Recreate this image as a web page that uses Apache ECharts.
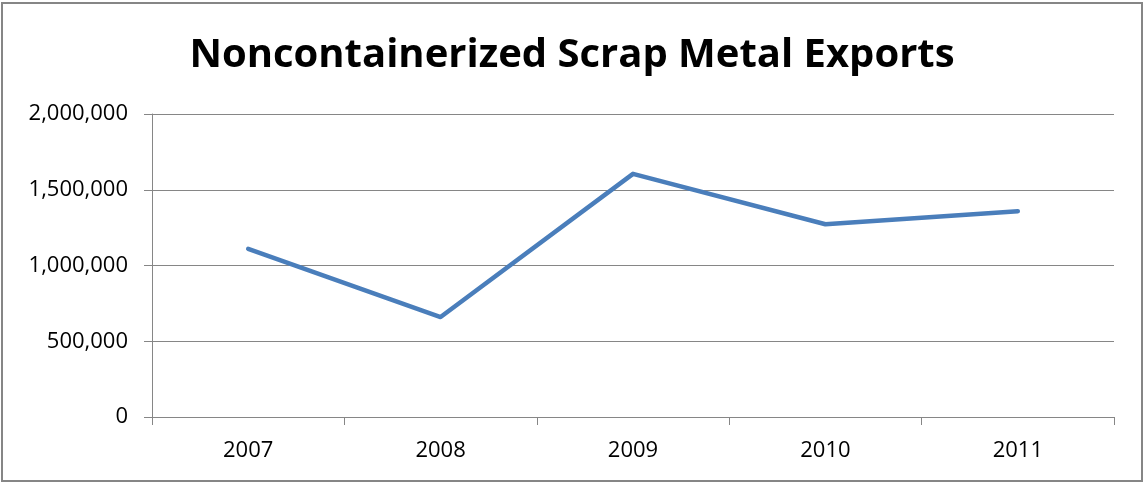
<!DOCTYPE html>
<html>
<head>
<meta charset="utf-8">
<script src="https://cdn.jsdelivr.net/npm/echarts@6/dist/echarts.min.js"></script>
<style>
html,body{margin:0;padding:0;background:#fff;}
#chart{width:1144px;height:484px;}
</style>
</head>
<body>
<div id="chart"></div>
<script>
const titleText = 'Noncontainerized Scrap Metal Exports';
const categories = ['2007', '2008', '2009', '2010', '2011'];
const exportsValues = [1110000, 660000, 1605000, 1272000, 1358000];
const yTicks = [0, 500000, 1000000, 1500000, 2000000];

const chart = echarts.init(document.getElementById('chart'), null, {renderer: 'canvas'});
const fontFam = '"Open Sans", sans-serif';
chart.setOption({
  animation: false,
  backgroundColor: '#ffffff',
  title: {
    text: titleText,
    left: 'center',
    top: 31,
    textStyle: {fontFamily: fontFam, fontWeight: 'bold', fontSize: 40, color: '#000000'}
  },
  graphic: [{
    type: 'rect',
    shape: {x: 2, y: 3, width: 1140, height: 478},
    style: {fill: 'none', stroke: '#868686', lineWidth: 2},
    silent: true
  }],
  grid: {left: 152, right: 30, top: 114, bottom: 67, containLabel: false},
  xAxis: {
    type: 'category',
    data: categories,
    boundaryGap: true,
    axisLine: {lineStyle: {color: '#868686', width: 1}},
    axisTick: {show: true, length: 8, inside: false, lineStyle: {color: '#868686'}},
    axisLabel: {fontFamily: fontFam, fontSize: 22, color: '#000000', margin: 23}
  },
  yAxis: {
    type: 'value',
    min: 0,
    max: yTicks[yTicks.length - 1],
    interval: yTicks[1] - yTicks[0],
    axisLine: {show: true, lineStyle: {color: '#868686', width: 1}},
    axisTick: {show: true, length: 8, lineStyle: {color: '#868686'}},
    splitLine: {lineStyle: {color: '#868686', width: 1}},
    axisLabel: {
      fontFamily: fontFam, fontSize: 22, color: '#000000', margin: 24,
      formatter: v => v.toLocaleString('en-US')
    }
  },
  series: [{
    type: 'line',
    data: exportsValues,
    showSymbol: false,
    symbol: 'none',
    lineStyle: {color: '#4a7ebb', width: 4.5, cap: 'round', join: 'round'},
    itemStyle: {color: '#4a7ebb'}
  }]
});
</script>
</body>
</html>
